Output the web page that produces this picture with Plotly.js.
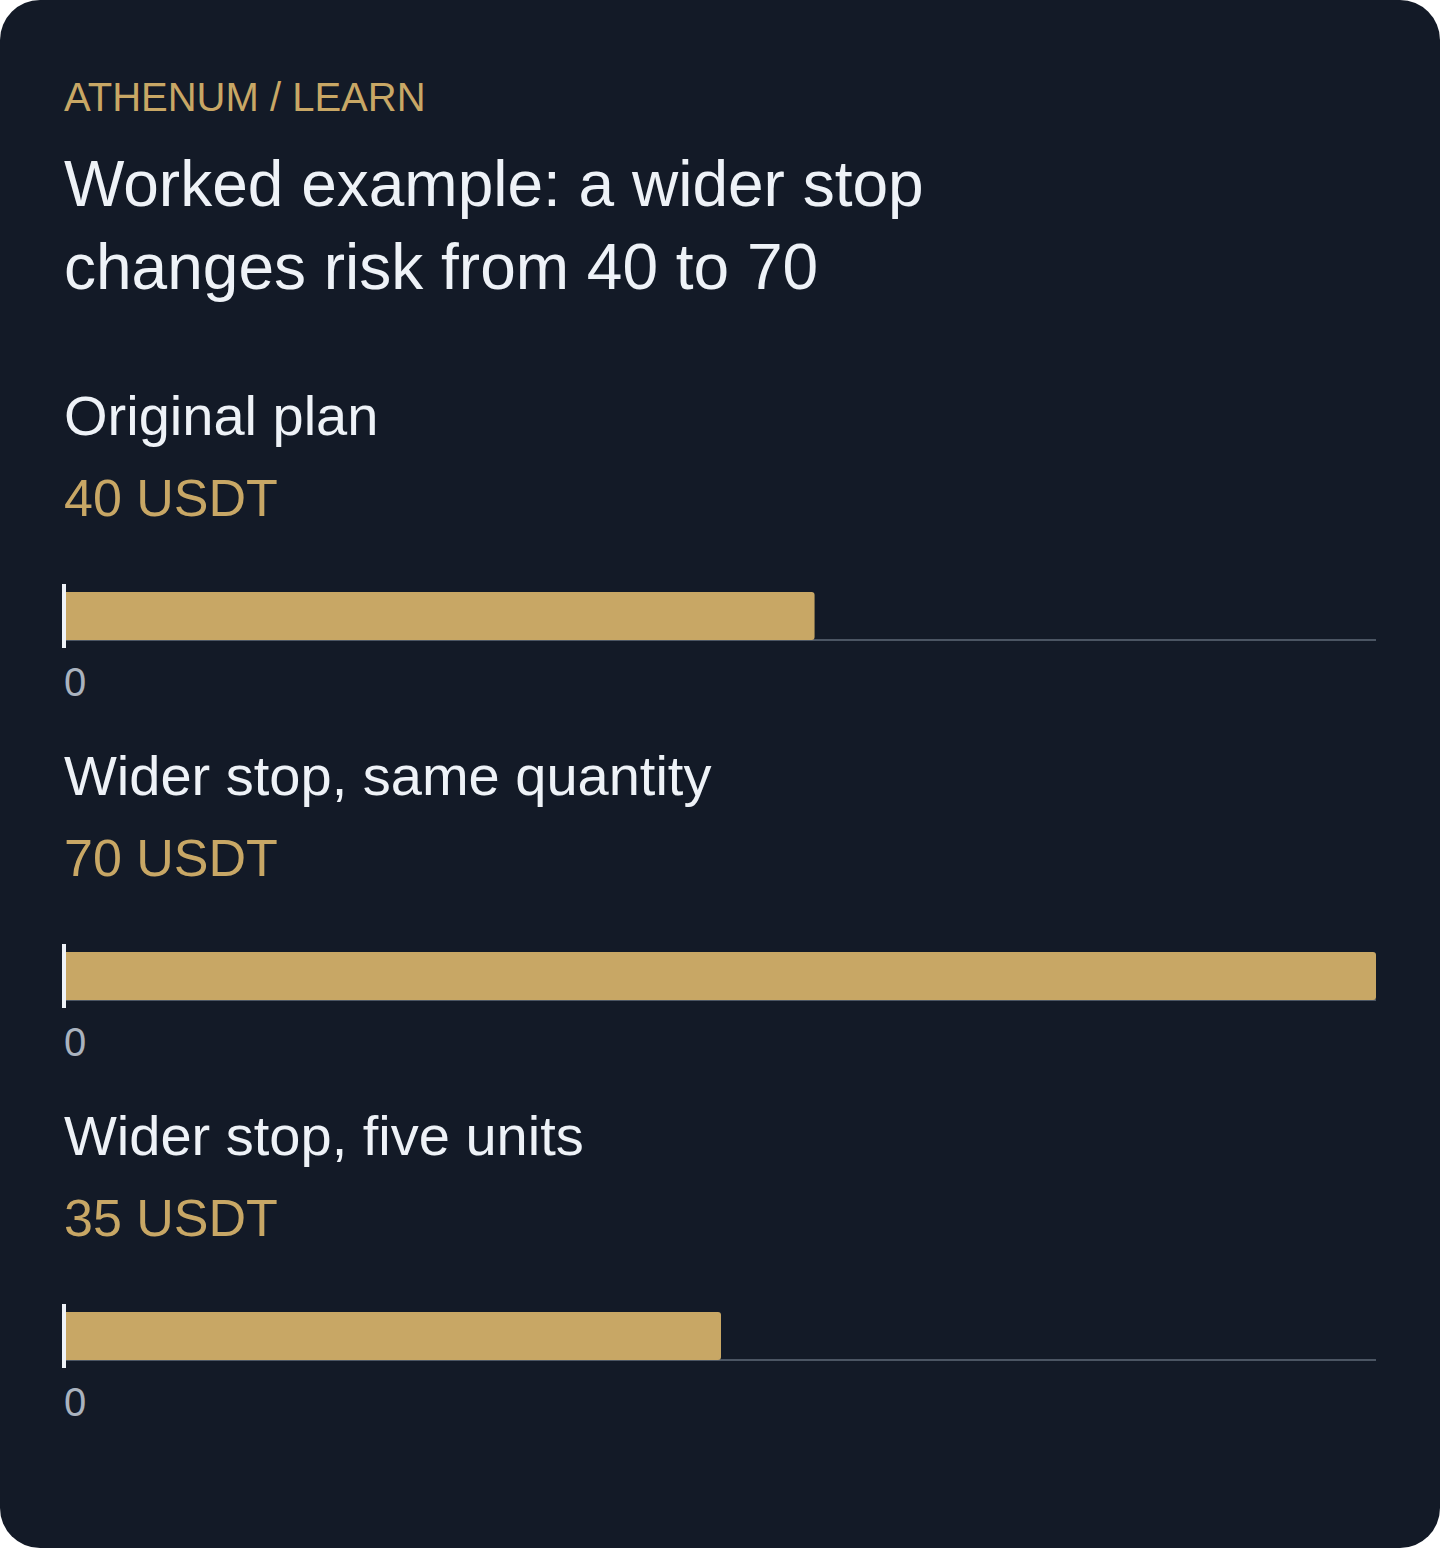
<!DOCTYPE html>
<html>
<head>
<meta charset="utf-8">
<script src="https://cdn.plot.ly/plotly-3.0.1.min.js"></script>
<style>
  html, body { margin: 0; padding: 0; background: #ffffff; }
  #chart { width: 1440px; height: 1548px; border-radius: 40px; overflow: hidden; }
</style>
</head>
<body>
<div id="chart"></div>
<script>
// ---- data ----
const eyebrow = 'ATHENUM / LEARN';
const titleLines = ['Worked example: a wider stop', 'changes risk from 40 to 70'];
const categories = ['Original plan', 'Wider stop, same quantity', 'Wider stop, five units'];
const values = [40, 70, 35];
const valueLabels = ['40 USDT', '70 USDT', '35 USDT'];
const tickValues = [0];
const tickLabels = ['0'];
const axisRange = [0, 70];

// ---- style / layout constants ----
const W = 1440, H = 1548;
const BG = '#131a27';
const GOLD = '#c8a765';
const TEXT = '#eef2f7';
const MUTED = '#aab3bf';
const FONT = 'Liberation Sans, Arial, Helvetica, sans-serif';
const LEFT = 62;
const PLOT_L = 66, PLOT_R = 1376;
const STEP = 360;            // vertical distance between panels
const PANEL0 = {label: 436, amount: 517, top: 584, bottom: 648, base: 640};

const fy = px => 1 - px / H;
const fx = px => px / W;

function anno(text, xPx, baselinePx, size, color) {
  return {
    text: text, xref: 'paper', yref: 'paper', x: fx(xPx), y: fy(baselinePx + 0.21 * size + 1),
    xanchor: 'left', yanchor: 'bottom', showarrow: false, align: 'left',
    font: {family: FONT, size: size, color: color}
  };
}

const traces = [];
const layout = {
  width: W, height: H,
  paper_bgcolor: BG, plot_bgcolor: BG,
  margin: {l: 0, r: 0, t: 0, b: 0},
  showlegend: false,
  bargap: 0.25,
  font: {family: FONT, color: TEXT},
  title: {
    text: titleLines.join('<br>'),
    xref: 'paper', yref: 'container', x: fx(LEFT + 2), y: fy(206), xanchor: 'left', yanchor: 'top',
    font: {family: FONT, size: 64, color: TEXT}
  },
  annotations: [anno(eyebrow, LEFT, 112, 40, GOLD)],
  hovermode: false
};

categories.forEach((cat, i) => {
  const off = i * STEP;
  const xa = i === 0 ? 'x' : 'x' + (i + 1);
  const ya = i === 0 ? 'y' : 'y' + (i + 1);
  traces.push({
    type: 'bar', orientation: 'h',
    x: [values[i]], y: [cat],
    xaxis: xa, yaxis: ya,
    marker: {color: GOLD, cornerradius: 3, line: {width: 0}},
    hoverinfo: 'skip'
  });
  const xKey = i === 0 ? 'xaxis' : 'xaxis' + (i + 1);
  const yKey = i === 0 ? 'yaxis' : 'yaxis' + (i + 1);
  layout[xKey] = {
    domain: [fx(PLOT_L), fx(PLOT_R)],
    range: axisRange,
    anchor: 'free',
    position: fy(PANEL0.base + off),
    showgrid: false, zeroline: false,
    showline: true, linecolor: '#4b5563', linewidth: 2, layer: 'below traces',
    ticks: '',
    tickmode: 'array', tickvals: tickValues, ticktext: tickLabels,
    ticklabelposition: 'outside right',
    ticklabelstandoff: 7, ticklabelshift: -3,
    tickfont: {family: FONT, size: 40, color: MUTED},
    fixedrange: true
  };
  layout[yKey] = {
    domain: [fy(PANEL0.bottom + off), fy(PANEL0.top + off)],
    anchor: xa,
    type: 'category',
    range: [-0.5, 0.5],
    showgrid: false, zeroline: false,
    showline: true, linecolor: TEXT, linewidth: 4,
    showticklabels: false, ticks: '',
    fixedrange: true
  };
  layout.annotations.push(anno(cat, LEFT, PANEL0.label + off, 56, TEXT));
  layout.annotations.push(anno(valueLabels[i], LEFT, PANEL0.amount + off, 52, GOLD));
});

Plotly.newPlot('chart', traces, layout, {displayModeBar: false, staticPlot: true});
</script>
</body>
</html>
